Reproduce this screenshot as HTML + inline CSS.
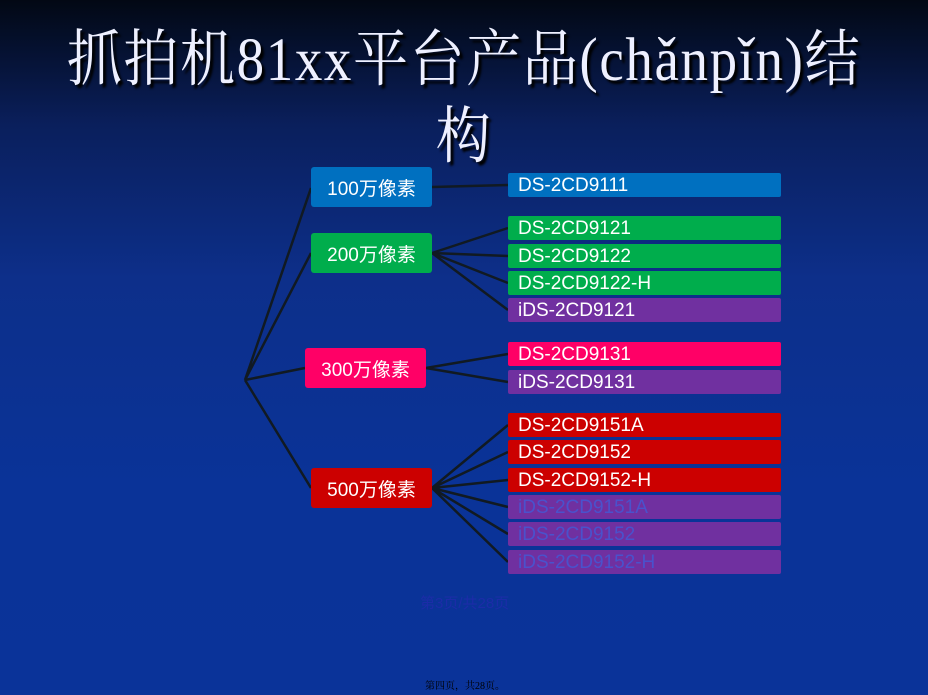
<!DOCTYPE html>
<html><head><meta charset="utf-8"><style>
body{margin:0;width:928px;height:695px;overflow:hidden;background:linear-gradient(180deg,#020814 0%,#0a1f5c 18%,#0d2f8a 40%,#0a3398 70%,#0a3399 100%);position:relative;font-family:"Liberation Sans","Noto Sans CJK SC",sans-serif}
.t{position:absolute;left:0;width:928px;text-align:center;color:#eef0ff;font-family:"Liberation Serif","Noto Serif CJK SC",serif;font-size:55px;letter-spacing:1.6px;text-shadow:3px 3px 2px #000;line-height:70px;transform:scaleY(1.12)}
.b{position:absolute;color:#fff;font-size:19px;border-radius:3px;display:flex;align-items:center;justify-content:center}
.i{position:absolute;left:508px;width:273px;height:24px;color:#fff;font-size:19px;line-height:26px;padding-left:10px;box-sizing:border-box;border-radius:2px}
.g{background:#00ad4c}.p{background:#7030a0}.r{background:#cc0000}.k{background:#ff0066}.u{background:#0070c0}
</style></head><body>
<div class="t" style="top:25px">抓拍机81xx平台产品(chǎnpǐn)结</div>
<div class="t" style="top:102px">构</div>
<svg style="position:absolute;left:0;top:0" width="928" height="695"><g stroke="#111a22" stroke-width="2.5" fill="none">
<path d="M245 380L311 188M245 380L311 253M245 380L305 368M245 380L311 488"/>
<path d="M432 187L508 185"/>
<path d="M432 253L508 228M432 253L508 256M432 253L508 283M432 253L508 310"/>
<path d="M426 368L508 354M426 368L508 382"/>
<path d="M432 488L508 425M432 488L508 452M432 488L508 480M432 488L508 507M432 488L508 534M432 488L508 562"/>
</g></svg>
<div class="b u" style="left:311px;top:167px;width:121px;height:40px">100万像素</div>
<div class="b g" style="left:311px;top:233px;width:121px;height:40px">200万像素</div>
<div class="b k" style="left:305px;top:348px;width:121px;height:40px">300万像素</div>
<div class="b r" style="left:311px;top:468px;width:121px;height:40px">500万像素</div>
<div class="i u" style="top:173px">DS-2CD9111</div>
<div class="i g" style="top:216px">DS-2CD9121</div>
<div class="i g" style="top:244px">DS-2CD9122</div>
<div class="i g" style="top:271px">DS-2CD9122-H</div>
<div class="i p" style="top:298px">iDS-2CD9121</div>
<div class="i k" style="top:342px">DS-2CD9131</div>
<div class="i p" style="top:370px">iDS-2CD9131</div>
<div class="i r" style="top:413px">DS-2CD9151A</div>
<div class="i r" style="top:440px">DS-2CD9152</div>
<div class="i r" style="top:468px">DS-2CD9152-H</div>
<div class="i p" style="top:495px;color:#4a52cc">iDS-2CD9151A</div>
<div class="i p" style="top:522px;color:#4a52cc">iDS-2CD9152</div>
<div class="i p" style="top:550px;color:#4a52cc">iDS-2CD9152-H</div>
<div style="position:absolute;left:420px;top:592px;color:#1c2ca8;font-size:15px">第3页/共28页</div>
<div style="position:absolute;left:425px;top:677px;color:#000;font-size:10px;font-family:'Liberation Serif','Noto Serif CJK SC',serif">第四页，共28页。</div>
</body></html>
